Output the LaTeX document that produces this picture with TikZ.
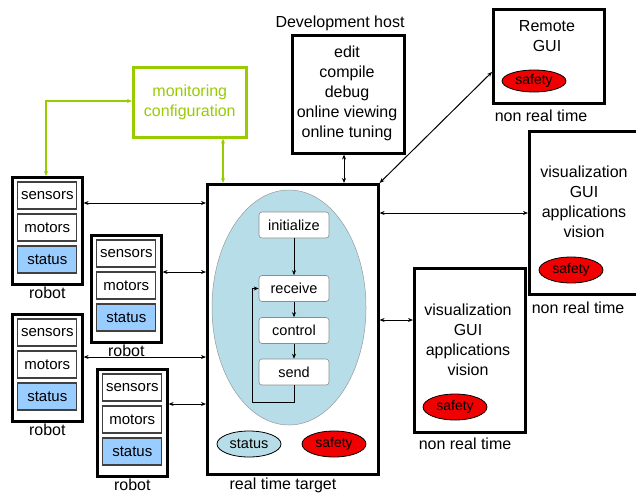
\documentclass[tikz,border=0pt]{standalone}
\usepackage{fontspec}
\setmainfont{Liberation Sans}
\usetikzlibrary{arrows.meta,shapes.geometric,calc}
\definecolor{loopblue}{RGB}{183,222,232}
\definecolor{statusblue}{RGB}{153,204,255}
\definecolor{cfggreen}{RGB}{153,204,0}
\definecolor{safetyred}{RGB}{240,0,0}
\tikzset{
  tip/.style={{Stealth[length=5pt,width=4pt]}-{Stealth[length=5pt,width=4pt]}},
  onetip/.style={-{Stealth[length=5pt,width=4pt]}},
  frame/.style={draw=black,line width=2.6pt,fill=white},
  cell/.style={draw=black!75,line width=1.2pt,fill=white,minimum width=59pt,minimum height=27pt,font=\fontsize{15}{16}\selectfont,inner sep=0pt},
  statcell/.style={cell,fill=statusblue},
  stepbox/.style={draw=black!45,line width=0.6pt,fill=white,rounded corners=3pt,minimum width=70pt,minimum height=26pt,font=\fontsize{14.5}{16}\selectfont,inner sep=0pt},
  safe/.style={ellipse,draw=black,line width=0.8pt,fill=safetyred,minimum width=64pt,minimum height=22pt,inner sep=0pt,font=\fontsize{14}{16}\selectfont},
  lbl/.style={font=\fontsize{16}{18}\selectfont,inner sep=0pt},
  body/.style={font=\fontsize{16}{20}\selectfont,align=center,inner sep=0pt}
}
\newcommand{\robotunit}[3]{% name, left x, top y
  \node[frame,minimum width=70pt,minimum height=107pt,anchor=north west,inner sep=0pt] (#1) at (#2,#3) {};
  \node[cell] (#1s) at ($(#1.north)+(0,19.5)$) {sensors};
  \node[cell] (#1m) at ($(#1.north)+(0,51.5)$) {motors};
  \node[statcell] (#1t) at ($(#1.north)+(0,83.5)$) {status};
  \node[lbl,anchor=base] (#1l) at ($(#1.south)+(0,12.5)$) {robot};
}
\begin{document}
\begin{tikzpicture}[x=1pt,y=-1pt]
\useasboundingbox (0,0) rectangle (636,493);

% robots
\robotunit{ra}{11}{176}
\robotunit{rb}{90}{234}
\robotunit{rc}{11}{313}
\robotunit{rd}{96}{368}

% real time target
\node[frame,minimum width=171pt,minimum height=290pt,anchor=north west,inner sep=0pt] (rt) at (206,183) {};
\node[lbl,anchor=base] (rtl) at (283,489) {real time target};
\node[ellipse,draw=black!40,line width=0.5pt,fill=loopblue,minimum width=154pt,minimum height=235pt,inner sep=0pt] (loop) at (289,307.5) {};
\node[stepbox] (init) at (294,225) {initialize};
\node[stepbox] (recv) at (294,288.5) {receive};
\node[stepbox] (ctrl) at (294,330.5) {control};
\node[stepbox] (send) at (294,372) {send};
\draw[onetip,line width=0.7pt] (init) -- (recv);
\draw[onetip,line width=0.7pt] (recv) -- (ctrl);
\draw[onetip,line width=0.7pt] (ctrl) -- (send);
\coordinate (lpa) at (294,402);
\coordinate (lpb) at (252,402);
\draw[onetip,line width=0.7pt] (send.south) -- (lpa) -- (lpb) |- (recv.west);
\node[ellipse,draw=black,line width=0.8pt,fill=loopblue,minimum width=64pt,minimum height=26pt,inner sep=0pt,font=\fontsize{14.5}{16}\selectfont] (rtst) at (249,444) {status};
\node[safe,minimum height=26pt] (rtsf) at (334,444) {safety};

% monitoring configuration
\node[draw=cfggreen,line width=2.6pt,fill=white,minimum width=113pt,minimum height=70pt,anchor=north west,inner sep=0pt] (mon) at (132,66) {};
\node[body,text=cfggreen] at (mon.center) {monitoring\\configuration};
\coordinate (gc) at (46,101);
\draw[tip,draw=cfggreen,line width=1.3pt] (ra.north -| gc) -- (gc) -- (gc -| mon.west);
\draw[tip,draw=cfggreen,line width=1.3pt] (mon.south -| 223,0) -- (rt.north -| 223,0);

% development host
\node[frame,minimum width=112pt,minimum height=118pt,anchor=north west,inner sep=0pt] (dev) at (291,34) {};
\node[body] at (347,93) {edit\\compile\\debug\\online viewing\\online tuning};
\node[lbl,anchor=base] (devl) at (340,27) {Development host};
\draw[tip,line width=1pt] (dev.south -| 344,0) -- (rt.north -| 344,0);

% remote GUI
\node[frame,minimum width=111pt,minimum height=94pt,anchor=north west,inner sep=0pt] (rg) at (492,8) {};
\node[body] at (547,36.5) {Remote\\GUI};
\node[safe] (rgs) at (534,81) {safety};
\node[lbl,anchor=base] (rgl) at (541,121) {non real time};
\coordinate (rga) at (492,72);
\draw[tip,line width=1pt] (rt.north east) -- (rga);

% visualization, far right
\node[frame,minimum width=112pt,minimum height=163pt,anchor=north west,inner sep=0pt] (va) at (528,130) {};
\node[body] at (584,202) {visualization\\GUI\\applications\\vision};
\node[safe,minimum height=26pt] (vas) at (571,270) {safety};
\node[lbl,anchor=base] (val) at (578,313) {non real time};
\draw[tip,line width=1pt] (rt.east |- 0,213) -- (va.west |- 0,213);

% visualization, middle
\node[frame,minimum width=111pt,minimum height=164pt,anchor=north west,inner sep=0pt] (vb) at (413,267) {};
\node[body] at (468,339.5) {visualization\\GUI\\applications\\vision};
\node[safe,minimum height=26pt] (vbs) at (455,407) {safety};
\node[lbl,anchor=base] (vbl) at (465,449) {non real time};
\draw[tip,line width=1pt] (rt.east |- 0,320) -- (vb.west |- 0,320);

% robot links
\draw[tip,line width=1pt] (ra.east |- 0,203) -- (rt.west |- 0,203);
\draw[tip,line width=1pt] (rb.east |- 0,272) -- (rt.west |- 0,272);
\draw[tip,line width=1pt] (rc.east |- 0,357) -- (rt.west |- 0,357);
\draw[tip,line width=1pt] (rd.east |- 0,404) -- (rt.west |- 0,404);
\end{tikzpicture}
\end{document}
